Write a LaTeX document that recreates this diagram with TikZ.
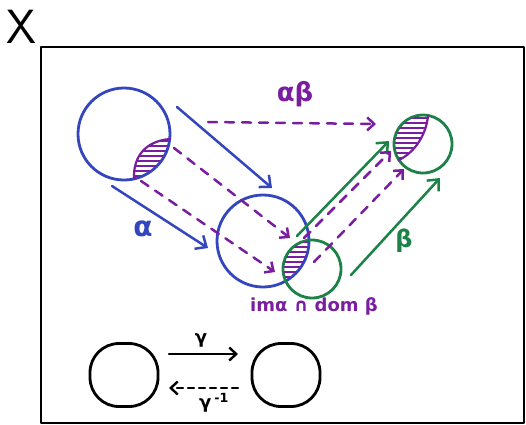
\documentclass[tikz,border=0pt]{standalone}
\usepackage{fontspec}
\setmainfont{DejaVu Sans}
\usepackage{tikz}
\usetikzlibrary{arrows.meta}

\definecolor{penblue}{RGB}{52,70,190}
\definecolor{penpurple}{RGB}{122,30,160}
\definecolor{pengreen}{RGB}{28,130,72}

\begin{document}
\begin{tikzpicture}[
    x=1pt, y=-1pt,
    line cap=round, line join=round,
    blob/.style={draw, circle, line width=2.8pt, inner sep=0pt},
    sq/.style={draw, rounded corners=29pt, line width=2.8pt, inner sep=0pt,
               minimum width=68pt, minimum height=63pt},
    map/.style={-{Straight Barb[length=9pt,width=16pt]}, line width=2.5pt},
    comp/.style={-{Straight Barb[length=7pt,width=13pt]}, line width=2.5pt,
                 penpurple, dash pattern=on 9pt off 8pt},
    hatch/.style={penpurple, line width=2.2pt},
    lbl/.style={font=\bfseries\fontsize{24}{24}\selectfont, inner sep=0pt},
  ]
  \useasboundingbox (0,0) rectangle (526,424);

  \node[font=\sffamily\fontsize{48}{48}\selectfont, inner sep=0pt] (X) at (21,27) {X};
  \draw[line width=2.8pt] (41,47) rectangle (524,423);

  \node[blob, penblue, minimum size=92pt] (da) at (124,134) {};
  \node[blob, penblue, minimum size=92pt] (ia) at (263,241) {};
  \node[blob, pengreen, minimum size=58pt] (db) at (312,269) {};
  \node[blob, pengreen, minimum size=58pt] (ib) at (423,144) {};

  % hatched parts
  \begin{scope}
    \clip (da.center) circle[radius=45];
    \clip (170,139) .. controls (146,141) and (133,156) .. (134,179)
          -- (134,200) -- (200,200) -- (200,120) -- (170,120) -- cycle;
    \foreach \y in {141,146,...,181} \draw[hatch] (120,\y) -- (180,\y);
  \end{scope}
  \draw[hatch] (170,139) .. controls (146,141) and (133,156) .. (134,179);

  \begin{scope}
    \clip (ia.center) circle[radius=45];
    \clip (db.center) circle[radius=28];
    \foreach \y in {242,247,...,282} \draw[hatch] (280,\y) -- (315,\y);
  \end{scope}

  \begin{scope}
    \clip (ib.center) circle[radius=28];
    \clip (428,116) .. controls (426,135) and (415,152) .. (399,160)
          -- (380,170) -- (380,100) -- (440,100) -- cycle;
    \foreach \y in {118,123,...,163} \draw[hatch] (390,\y) -- (432,\y);
  \end{scope}
  \draw[hatch] (428,116) .. controls (426,135) and (415,152) .. (399,160);

  \coordinate (aS1) at (177,107);  \coordinate (aT1) at (272,188);
  \coordinate (aS2) at (112,186);  \coordinate (aT2) at (208,248);
  \coordinate (cS1) at (174,148);  \coordinate (cT1) at (290,238);
  \coordinate (cS2) at (141,181);  \coordinate (cT2) at (275,272);
  \coordinate (cS3) at (304,238);  \coordinate (cT3) at (391,151);
  \coordinate (cS4) at (314,262);  \coordinate (cT4) at (404,169);
  \coordinate (abS) at (208,122);  \coordinate (abT) at (376,124);
  \coordinate (bS1) at (297,236);  \coordinate (bT1) at (389,141);
  \coordinate (bS2) at (351,275);  \coordinate (bT2) at (440,178);

  \draw[map, penblue] (aS1) -- (aT1);
  \draw[map, penblue] (aS2) -- (aT2);
  \draw[comp] (cS1) -- (cT1);
  \draw[comp] (cS2) -- (cT2);
  \draw[comp] (abS) -- (abT);
  \draw[map, pengreen] (bS1) -- (bT1);
  \draw[map, pengreen] (bS2) -- (bT2);
  \draw[comp] (cS3) -- (cT3);
  \draw[comp] (cS4) -- (cT4);

  \node[lbl, penblue, font=\bfseries\fontsize{28}{28}\selectfont] (alpha) at (143,229) {α};
  \node[lbl, penpurple, font=\bfseries\fontsize{26}{26}\selectfont] (ab) at (295,94) {αβ};
  \node[lbl, pengreen] (beta) at (404,241) {β};
  \node[lbl, penpurple, font=\bfseries\fontsize{18}{18}\selectfont] (lensname) at (314,306)
    {imα ∩ dom β};

  \node[sq] (gl) at (124,375) {};
  \node[sq] (gr) at (286,375) {};
  \coordinate (gS) at (169,354);   \coordinate (gT) at (238,354);
  \coordinate (giS) at (238,388);  \coordinate (giT) at (169,388);
  \draw[-{Straight Barb[length=7pt,width=13pt]}, line width=2.4pt] (gS) -- (gT);
  \draw[-{Straight Barb[length=7pt,width=13pt]}, line width=2.4pt,
        dash pattern=on 6pt off 5pt] (giS) -- (giT);
  \node[lbl, font=\bfseries\fontsize{18}{18}\selectfont] (g) at (201,340) {γ};
  \node[lbl, font=\bfseries\fontsize{18}{18}\selectfont] (ginv) at (214,403)
    {γ\,\textsuperscript{-1}};
\end{tikzpicture}
\end{document}
